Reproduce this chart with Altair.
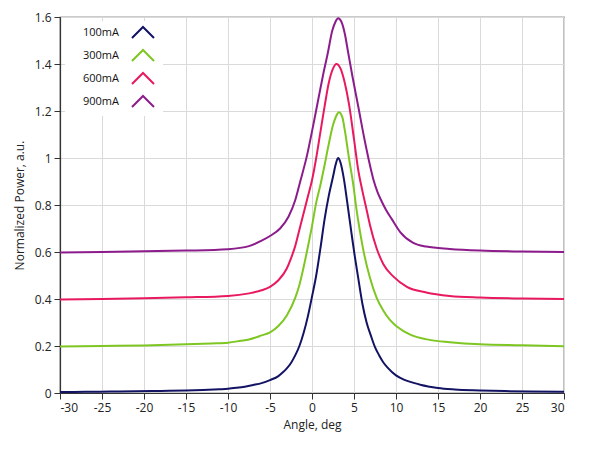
import altair as alt
import pandas as pd

series = ["100mA", "300mA", "600mA", "900mA"]
colors = ["#131364", "#7ec622", "#e8195f", "#8c1c8c"]

x_100 = [-30, -27, -24, -21, -18, -15, -13, -11, -10, -9, -8, -7, -6, -5, -4, -3.5, -3, -2.5, -2, -1.5,
         -1, -0.5, 0, 0.5, 1, 1.5, 2, 2.5, 2.8, 3.1, 3.4, 3.8, 4.2, 4.7, 5.1, 5.5, 6, 6.5, 7, 7.5,
         8, 8.5, 9, 10, 11, 12, 13, 14, 15, 17, 20, 23, 26, 30]
y_100 = [0.004, 0.005, 0.006, 0.007, 0.009, 0.011, 0.013, 0.016, 0.018, 0.022, 0.027, 0.034, 0.042, 0.055,
         0.072, 0.087, 0.105, 0.128, 0.16, 0.20, 0.255, 0.325, 0.41, 0.50, 0.615, 0.74, 0.84, 0.92, 0.97,
         1.0, 0.98, 0.91, 0.81, 0.68, 0.58, 0.49, 0.38, 0.30, 0.245, 0.195, 0.16, 0.13, 0.108, 0.075,
         0.056, 0.044, 0.034, 0.027, 0.021, 0.015, 0.011, 0.008, 0.006, 0.005]

x_300 = [-30, -25, -20, -15, -12, -10, -8.5, -7.5, -6, -5, -4, -3, -2, -1.5, -1, -0.5, 0, 0.5, 1, 1.5,
         2, 2.5, 2.9, 3.2, 3.6, 3.9, 4.4, 4.9, 5.3, 5.7, 6.1, 6.9, 7.7, 8.5, 9.3, 10.1, 11.7, 14, 16.4,
         20, 25, 30]
y_300 = [0.198, 0.200, 0.202, 0.207, 0.211, 0.214, 0.222, 0.228, 0.245, 0.258, 0.285, 0.33, 0.405, 0.46,
         0.535, 0.62, 0.71, 0.81, 0.885, 0.97, 1.06, 1.14, 1.18, 1.195, 1.175, 1.12, 1.0, 0.89, 0.78,
         0.69, 0.61, 0.49, 0.405, 0.35, 0.31, 0.283, 0.248, 0.226, 0.216, 0.207, 0.203, 0.199]

x_600 = [-30, -25, -20, -15, -10, -7.5, -6, -5, -4, -3, -2.5, -2, -1.5, -1, -0.5, 0, 0.5, 1, 1.5, 2,
         2.5, 2.9, 3.4, 3.9, 4.4, 5.0, 5.5, 6.0, 6.5, 6.9, 7.7, 8.5, 9.7, 11.3, 13.6, 16.4, 20, 25, 30]
y_600 = [0.398, 0.400, 0.403, 0.407, 0.413, 0.424, 0.437, 0.452, 0.48, 0.53, 0.573, 0.625, 0.695, 0.765,
         0.835, 0.905, 1.0, 1.11, 1.22, 1.32, 1.38, 1.40, 1.38, 1.32, 1.23, 1.08, 0.95, 0.86, 0.78,
         0.715, 0.615, 0.548, 0.495, 0.452, 0.428, 0.413, 0.406, 0.402, 0.400]

x_900 = [-30, -25, -20, -15, -10, -7.5, -6, -5, -3.8, -2.8, -2.0, -1.4, -0.6, 0.15, 0.75, 1.3, 1.9, 2.4,
         2.8, 3.1, 3.5, 3.9, 4.3, 4.8, 5.5, 6.3, 6.8, 7.3, 7.8, 8.3, 8.8, 9.5, 10.5, 12, 13.6, 16.4,
         20, 25, 30]
y_900 = [0.598, 0.600, 0.603, 0.606, 0.612, 0.625, 0.648, 0.668, 0.70, 0.75, 0.82, 0.90, 1.01, 1.14,
         1.25, 1.35, 1.45, 1.54, 1.58, 1.595, 1.58, 1.53, 1.45, 1.35, 1.22, 1.07, 0.985, 0.91, 0.855,
         0.815, 0.78, 0.74, 0.685, 0.64, 0.623, 0.613, 0.606, 0.602, 0.600]

x_ticks = [-30, -25, -20, -15, -10, -5, 0, 5, 10, 15, 20, 25, 30]
y_ticks = [0, 0.2, 0.4, 0.6, 0.8, 1, 1.2, 1.4, 1.6]

rows = []
for name, xs, ys in zip(series, [x_100, x_300, x_600, x_900], [y_100, y_300, y_600, y_900]):
    for i, (a, b) in enumerate(zip(xs, ys)):
        rows.append({"series": name, "angle": a, "power": b, "order": i})
df = pd.DataFrame(rows)

FONT = "Segoe UI, Open Sans"

chevron = "M10.09,1 L12.09,-1 L14.09,1"

chart = alt.Chart(df).mark_line(strokeWidth=2, interpolate="monotone").encode(
    x=alt.X("angle:Q", title="Angle, deg",
            scale=alt.Scale(domain=[-30, 30], nice=False, zero=False),
            axis=alt.Axis(values=x_ticks, labelExpr="datum.value + ''", tickSize=6,
                          labelPadding=3, titlePadding=6)),
    y=alt.Y("power:Q", title="Normalized Power, a.u.",
            scale=alt.Scale(domain=[0, 1.6], nice=False),
            axis=alt.Axis(values=y_ticks, labelExpr="datum.value + ''", tickSize=6,
                          labelPadding=3, titlePadding=8)),
    color=alt.Color("series:N", scale=alt.Scale(domain=series, range=colors),
                    legend=alt.Legend(title=None, orient="none", legendX=5, legendY=4,
                                      padding=5, fillColor="white",
                                      symbolType=chevron, symbolSize=121,
                                      symbolStrokeWidth=2, symbolFillColor="transparent",
                                      labelFontSize=11, labelOffset=0, rowPadding=4,
                                      labelFont=FONT, labelColor="#111")),
    order="order:Q",
    detail="series:N",
).properties(
    width=504, height=376,
    autosize=alt.AutoSizeParams(type="none"),
    padding={"left": 52, "top": 9, "right": 17, "bottom": 50},
    background="white",
).configure_view(
    stroke="#333333", strokeWidth=1.2
).configure_axis(
    domainColor="#333333", tickColor="#333333", gridColor="#dadada",
    labelFont=FONT, titleFont=FONT, labelFontSize=12, titleFontSize=12,
    titleFontWeight="normal", labelColor="#222222", titleColor="#222222",
    domainWidth=1.2
)

chart.save("out.html", embed_options={"renderer": "svg", "actions": False})
